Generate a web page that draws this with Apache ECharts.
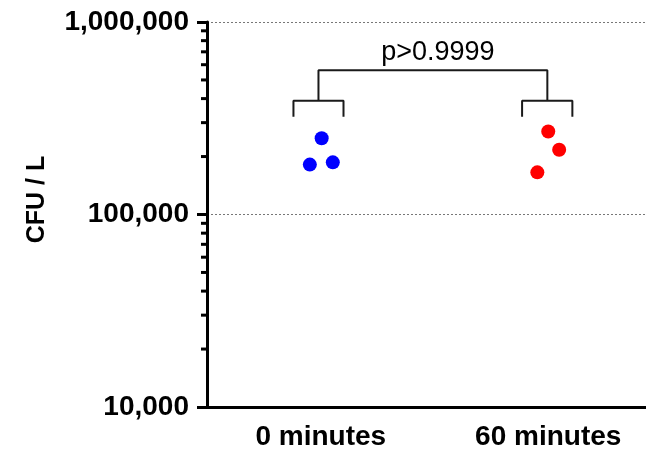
<!DOCTYPE html>
<html>
<head>
<meta charset="utf-8">
<script src="https://cdn.jsdelivr.net/npm/echarts@6/dist/echarts.min.js"></script>
<style>
html,body{margin:0;padding:0;background:#fff;overflow:hidden;width:646px;height:452px;}
#chart{width:662px;height:452px;}
</style>
</head>
<body>
<div id="chart"></div>
<script>
// ---- data ----
var categories = ['0 minutes', '60 minutes'];
var values0 = [249000, 181600, 186600];
var values60 = [270000, 217000, 165600];
var jitter0 = [0.004, -0.048, 0.053];
var jitter60 = [0.0, 0.048, -0.048];
var yTicks = [10000, 100000, 1000000];
var minorTickValues = [20000,30000,40000,50000,60000,70000,80000,90000,
                       200000,300000,400000,500000,600000,700000,800000,900000];
var pText = 'p>0.9999';
var bracketTop = 562000, bracketLow = 390000, bracketFoot = 322000;

var font = 'Liberation Sans, Arial, sans-serif';

var pts0 = values0.map(function(v, i){ return [0 + jitter0[i], v]; });
var pts60 = values60.map(function(v, i){ return [1 + jitter60[i], v]; });

var bracketLeft = [[-0.12, bracketFoot], [-0.12, bracketLow], [0.1, bracketLow], [0.1, bracketFoot]];
var bracketMid = [[-0.01, bracketLow], [-0.01, bracketTop], [0.996, bracketTop], [0.996, bracketLow]];
var bracketRight = [[0.885, bracketFoot], [0.885, bracketLow], [1.106, bracketLow], [1.106, bracketFoot]];

function bracketSeries(d){
  return {type:'line', xAxisIndex:1, data:d, symbol:'none', silent:true,
    lineStyle:{color:'#1a1a1a', width:2}, animation:false, z:3};
}

var chart = echarts.init(document.getElementById('chart'));
chart.setOption({
  animation: false,
  backgroundColor: '#ffffff',
  grid: {left: 207, right: 0, top: 22, bottom: 45},
  xAxis: [{
    type: 'category', data: categories, boundaryGap: true,
    axisLine: {onZero: false, lineStyle: {color: '#000', width: 3}},
    axisTick: {alignWithLabel: true, length: 10, lineStyle: {color: '#000', width: 3}},
    axisLabel: {color: '#000', fontFamily: font, fontWeight: 'bold', fontSize: 28, margin: 16},
    splitLine: {show: false}
  }, {
    type: 'value', min: -0.5, max: 1.5, show: false
  }],
  yAxis: {
    type: 'log', logBase: 10, min: 10000, max: 1000000,
    name: 'CFU / L', nameLocation: 'middle', nameGap: 157, nameRotate: 90,
    nameTextStyle: {color: '#000', fontFamily: font, fontWeight: 'bold', fontSize: 25,
      padding: [0, 0, 0, 30]},
    axisLine: {show: true, onZero: false, lineStyle: {color: '#000', width: 3}},
    axisTick: {show: true, length: 10, lineStyle: {color: '#000', width: 3}},
    axisLabel: {color: '#000', fontFamily: font, fontWeight: 'bold', fontSize: 28, margin: 18,
      formatter: function(v){ return Math.round(v).toLocaleString('en-US'); }},
    splitLine: {show: true, lineStyle: {color: '#777', width: 1, type: [2, 2]}}
  },
  series: [
    {type: 'scatter', xAxisIndex: 1, data: pts0, symbol: 'circle', symbolSize: 14,
      itemStyle: {color: '#0000ff', opacity: 1}, z: 5},
    {type: 'scatter', xAxisIndex: 1, data: pts60, symbol: 'circle', symbolSize: 14,
      itemStyle: {color: '#ff0000', opacity: 1}, z: 5},
    bracketSeries(bracketLeft),
    bracketSeries(bracketMid),
    bracketSeries(bracketRight),
    {type: 'scatter', xAxisIndex: 1, data: [[0.515, bracketTop]], symbolSize: 0, silent: true,
      itemStyle: {opacity: 1},
      label: {show: true, position: 'top', distance: 4, formatter: pText, color: '#000',
        fontFamily: font, fontSize: 27}},
    {type: 'custom', xAxisIndex: 1, clip: false, silent: true, z: 4,
      data: minorTickValues.map(function(v){ return [v]; }),
      encode: {y: 0},
      renderItem: function(params, api){
        var p = api.coord([-0.5, api.value(0)]);
        return {type: 'line', shape: {x1: p[0] - 6, y1: p[1], x2: p[0], y2: p[1]},
          style: {stroke: '#000', lineWidth: 3}};
      }}
  ]
});
</script>
</body>
</html>
